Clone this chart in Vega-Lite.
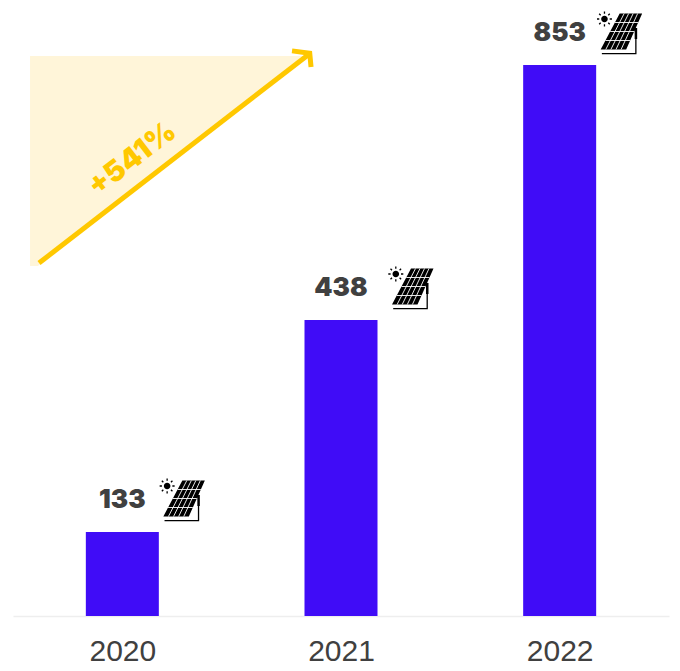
{
  "$schema": "https://vega.github.io/schema/vega-lite/v6.json",
  "width": 656,
  "height": 616,
  "autosize": "none",
  "padding": {"left": 13, "top": 0, "right": 11, "bottom": 55},
  "background": "white",
  "config": {"view": {"stroke": null}},
  "datasets": {
    "installs": [
      {"year": 2020, "value": 133, "label": "133"},
      {"year": 2021, "value": 438, "label": "438"},
      {"year": 2022, "value": 853, "label": "853"}
    ],
    "band": [
      {"x": 2019.578, "top": 867, "low": 525.8},
      {"x": 2019.614, "top": 867, "low": 525.8},
      {"x": 2020.849, "top": 867, "low": 868.5}
    ],
    "arrow": [
      {"part": "shaft", "seq": 1, "x": 2019.619, "value": 530.7},
      {"part": "shaft", "seq": 2, "x": 2020.849, "value": 868.5},
      {"part": "head", "seq": 1, "x": 2020.776, "value": 874.7},
      {"part": "head", "seq": 2, "x": 2020.857, "value": 871},
      {"part": "head", "seq": 3, "x": 2020.863, "value": 849.7}
    ],
    "growth": [{"x": 2020.045, "value": 700, "label": "+541%"}]
  },
  "layer": [
    {
      "data": {"name": "band"},
      "mark": {"type": "area", "color": "#fff5d9", "opacity": 1},
      "encoding": {
        "x": {"field": "x", "type": "quantitative", "scale": {"domain": [2019.5, 2022.5], "nice": false, "zero": false, "padding": 0}, "axis": {"values": [2020, 2021, 2022], "format": "d", "title": null, "grid": false, "ticks": false, "domainColor": "#eeeeee", "domainWidth": 1.5, "labelFont": "Liberation Sans", "labelFontSize": 30, "labelColor": "#404040", "labelPadding": 20}},
        "y": {"field": "top", "type": "quantitative", "scale": {"domain": [0, 133, 438, 853, 953], "range": [616, 532, 320, 65, 0], "nice": false, "zero": false}, "axis": null},
        "y2": {"field": "low"}
      }
    },
    {
      "data": {"name": "installs"},
      "mark": {"type": "bar", "size": 73, "color": "#400cf7"},
      "encoding": {
        "x": {"field": "year", "type": "quantitative"},
        "y": {"field": "value", "type": "quantitative"}
      }
    },
    {
      "data": {"name": "arrow"},
      "mark": {"type": "line", "color": "#ffc800", "strokeWidth": 5, "strokeJoin": "miter", "strokeCap": "butt"},
      "encoding": {
        "x": {"field": "x", "type": "quantitative"},
        "y": {"field": "value", "type": "quantitative"},
        "detail": {"field": "part"},
        "order": {"field": "seq"}
      }
    },
    {
      "data": {"name": "growth"},
      "mark": {"type": "text", "font": "Inter", "fontWeight": 900, "fontSize": 29, "angle": 322.4, "color": "#ffc800", "align": "center", "baseline": "middle"},
      "encoding": {
        "x": {"field": "x", "type": "quantitative"},
        "y": {"field": "value", "type": "quantitative"},
        "text": {"field": "label"}
      }
    },
    {
      "data": {"name": "installs"},
      "mark": {"type": "text", "font": "Inter", "fontWeight": 900, "fontSize": 26, "color": "#404040", "align": "center", "baseline": "middle", "yOffset": -32},
      "encoding": {
        "x": {"field": "year", "type": "quantitative"},
        "y": {"field": "value", "type": "quantitative"},
        "text": {"field": "label"}
      }
    },
    {
      "data": {"name": "installs"},
      "mark": {"type": "point", "filled": true, "opacity": 1, "size": 4, "color": "#000000", "strokeWidth": 0, "xOffset": {"expr": "datum.year === 2021 ? 69.5 : 59.5"}, "yOffset": -32,
        "shape": "M0.5,-19.5L23,-19.5L7,16.5L-18.5,16.5Z M-18,-14A3.3,3.3,0,1,1,-11.4,-14A3.3,3.3,0,1,1,-18,-14Z M15.5,-5L18,-5L18,6L15.5,6Z"},
      "encoding": {
        "x": {"field": "year", "type": "quantitative"},
        "y": {"field": "value", "type": "quantitative"}
      }
    },
    {
      "data": {"name": "installs"},
      "mark": {"type": "point", "filled": false, "opacity": 1, "size": 4, "color": "#ffffff", "strokeWidth": 0.9, "xOffset": {"expr": "datum.year === 2021 ? 69.5 : 59.5"}, "yOffset": -32,
        "shape": "M-4.25,-10.5L19,-10.5M-9,-1.5L15,-1.5M-13.75,7.5L11,7.5M5,-19.5L-13.4,16.5M9.5,-19.5L-8.3,16.5M14,-19.5L-3.2,16.5M18.5,-19.5L1.9,16.5"},
      "encoding": {
        "x": {"field": "year", "type": "quantitative"},
        "y": {"field": "value", "type": "quantitative"}
      }
    },
    {
      "data": {"name": "installs"},
      "mark": {"type": "point", "filled": false, "opacity": 1, "size": 4, "color": "#000000", "strokeWidth": 1.3, "xOffset": {"expr": "datum.year === 2021 ? 69.5 : 59.5"}, "yOffset": -32,
        "shape": "M-17.3,20.7L17.3,20.7M16.7,6L16.7,20.7M-14.7,-21.5L-14.7,-19.2M-14.7,-8.8L-14.7,-6.5M-22.2,-14L-19.9,-14M-9.5,-14L-7.2,-14M-20,-19.3L-18.5,-17.8M-10.9,-10.2L-9.4,-8.7M-20,-8.7L-18.5,-10.2M-10.9,-17.8L-9.4,-19.3"},
      "encoding": {
        "x": {"field": "year", "type": "quantitative"},
        "y": {"field": "value", "type": "quantitative"}
      }
    }
  ]
}
